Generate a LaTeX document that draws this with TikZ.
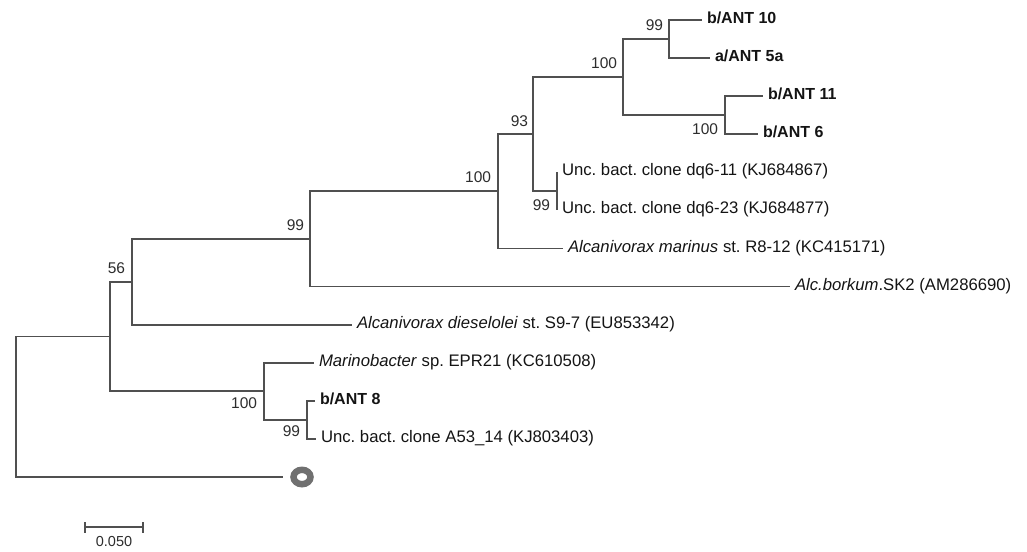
\documentclass[tikz,border=0pt]{standalone}
\usepackage{fontspec}
\setmainfont{Liberation Sans}
\frenchspacing
\definecolor{linegray}{RGB}{80,80,80}
\definecolor{leafcol}{RGB}{20,20,20}
\definecolor{bootcol}{RGB}{45,45,45}
\definecolor{ringgray}{RGB}{112,112,112}
\begin{document}
\begin{tikzpicture}[x=1pt,y=-1pt,
  br/.style={draw=linegray, line width=1.8pt},
  leaf/.style={anchor=west, inner xsep=5pt, inner ysep=0pt, outer sep=0pt,
    text height=0.716em, text depth=0pt, text=leafcol,
    font=\fontsize{16.7}{18}\selectfont},
  boldleaf/.style={leaf, font=\fontsize{16}{18}\selectfont\bfseries},
  boot/.style={anchor=east, inner sep=0pt, outer sep=0pt,
    text height=0.716em, text depth=0pt, text=bootcol,
    font=\fontsize{15.5}{17}\selectfont}]
\useasboundingbox (0,0) rectangle (1027,551);

% internal nodes
\coordinate (root)   at (16,406.75);
\coordinate (nA)     at (110,336.54);
\coordinate (n56)    at (132,281.80);
\coordinate (n99)    at (310,238.96);
\coordinate (n100m)  at (498,191.36);
\coordinate (n93)    at (533,134.24);
\coordinate (n100a)  at (623,77.12);
\coordinate (n99a)   at (669,39.04);
\coordinate (n100b)  at (725,115.20);
\coordinate (n99dq)  at (557,191.36);
\coordinate (n100mb) at (264,391.28);
\coordinate (n99b)   at (307,419.84);
\coordinate (outend) at (283,476.96);

% leaves
\node[boldleaf] (l1)  at (702,20.00)  {b/ANT 10};
\node[boldleaf] (l2)  at (710,58.08)  {a/ANT 5a};
\node[boldleaf] (l3)  at (763,96.16)  {b/ANT 11};
\node[boldleaf] (l4)  at (758,134.24) {b/ANT 6};
\node[leaf]     (l5)  at (557,172.32) {Unc. bact. clone dq6-11 (KJ684867)};
\node[leaf]     (l6)  at (557,210.40) {Unc. bact. clone dq6-23 (KJ684877)};
\node[leaf]     (l7)  at (563,248.48) {\textit{Alcanivorax marinus} st. R8-12 (KC415171)};
\node[leaf]     (l8)  at (790,286.56) {\textit{Alc.borkum}.SK2 (AM286690)};
\node[leaf]     (l9)  at (352,324.64) {\textit{Alcanivorax dieselolei} st. S9-7 (EU853342)};
\node[leaf]     (l10) at (314,362.72) {\textit{Marinobacter} sp. EPR21 (KC610508)};
\node[boldleaf] (l11) at (315,400.80) {b/ANT 8};
\node[leaf]     (l12) at (316,438.88) {Unc. bact. clone A53\_14 (KJ803403)};

% branches
\draw[br] (root) |- (nA);
\draw[br] (root) |- (outend);
\draw[br] (nA) |- (n56);
\draw[br] (nA) |- (n100mb);
\draw[br] (n56) |- (n99);
\draw[br] (n56) |- (l9.west);
\draw[br] (n99) |- (n100m);
\draw[br] (n99) |- (l8.west);
\draw[br] (n100m) |- (n93);
\draw[br] (n100m) |- (l7.west);
\draw[br] (n93) |- (n100a);
\draw[br] (n93) |- (n99dq);
\draw[br] (n99dq) |- (l5.west);
\draw[br] (n99dq) |- (l6.west);
\draw[br] (n100a) |- (n99a);
\draw[br] (n100a) |- (n100b);
\draw[br] (n99a) |- (l1.west);
\draw[br] (n99a) |- (l2.west);
\draw[br] (n100b) |- (l3.west);
\draw[br] (n100b) |- (l4.west);
\draw[br] (n100mb) |- (l10.west);
\draw[br] (n100mb) |- (n99b);
\draw[br] (n99b) |- (l11.west);
\draw[br] (n99b) |- (l12.west);

% outgroup marker
\draw[ringgray, line width=6.5pt] (302,477) circle[x radius=8.5, y radius=7.2];

% bootstrap values
\node[boot] (b1)  at (663,27)  {99};
\node[boot] (b2)  at (617,65)  {100};
\node[boot] (b3)  at (718,131) {100};
\node[boot] (b4)  at (528,123) {93};
\node[boot] (b5)  at (550,207) {99};
\node[boot] (b6)  at (491,179) {100};
\node[boot] (b7)  at (304,227) {99};
\node[boot] (b8)  at (125,270) {56};
\node[boot] (b9)  at (257,405) {100};
\node[boot] (b10) at (300,433) {99};

% scale bar
\coordinate (sb1) at (85,527);
\coordinate (sb2) at (143,527);
\draw[linegray, line width=1.8pt] (sb1) -- (sb2);
\draw[linegray, line width=1.8pt] ([yshift=-5.5pt]sb1) -- ([yshift=5.5pt]sb1);
\draw[linegray, line width=1.8pt] ([yshift=-5.5pt]sb2) -- ([yshift=5.5pt]sb2);
\node[boot, anchor=center, font=\fontsize{14.5}{16}\selectfont] (sbl) at (114,543) {0.050};
\end{tikzpicture}
\end{document}
